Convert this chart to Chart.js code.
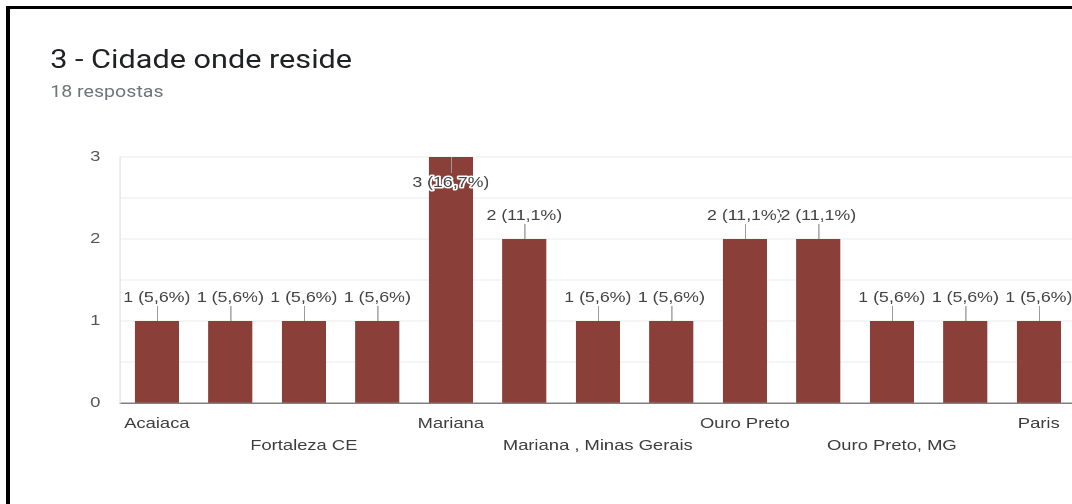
<!DOCTYPE html>
<html>
<head>
<meta charset="utf-8">
<script src="https://cdn.jsdelivr.net/npm/chart.js@4"></script>
<style>
  html, body { margin: 0; padding: 0; background: #fff; overflow: hidden; width: 1072px; height: 504px; }
  #frame {
    position: absolute; left: 6px; top: 6px; width: 1200px; height: 600px;
    border-left: 4px solid #000; border-top: 3px solid #000; box-sizing: border-box;
  }
  #card {
    position: absolute; left: 0; top: 0; width: 900px; height: 504px;
    transform: scaleX(1.225); transform-origin: 0 0;
  }
  #wrap { position: absolute; left: 0; top: 0; width: 900px; height: 504px; }
  .title {
    position: absolute; left: 41px; top: 45px; font: 25px/30px Roboto, sans-serif;
    color: #202124; white-space: nowrap;
  }
  .sub {
    position: absolute; left: 41px; top: 82.2px; font: 16px/20px Roboto, sans-serif;
    color: #70757a; white-space: nowrap;
  }
</style>
</head>
<body>
<div id="frame"></div>
<div id="card">
  <div id="wrap"><canvas id="chart"></canvas></div>
  <div class="title">3 - Cidade onde reside</div>
  <div class="sub">18 respostas</div>
</div>
<script>
// answers per city (every other name is skipped on the axis)
const cities = ['Acaiaca', '', 'Fortaleza CE', '', 'Mariana', '', 'Mariana , Minas Gerais', '',
                'Ouro Preto', '', 'Ouro Preto, MG', '', 'Paris'];
const counts = [1, 1, 1, 1, 3, 2, 1, 1, 2, 2, 1, 1, 1];
const yTicks = [0, 1, 2, 3];

const total = counts.reduce((a, b) => a + b, 0);

Chart.defaults.font.family = '"Liberation Sans", Arial, sans-serif';

// "n (pp,p%)" labels with a short leader line; goes inside the bar when there is no room above
const valueLabels = {
    id: 'valueLabels',
    afterDatasetsDraw(chart) {
        const { ctx, chartArea } = chart;
        const meta = chart.getDatasetMeta(0);
        ctx.save();
        ctx.font = '14.5px "Liberation Sans", Arial, sans-serif';
        ctx.textAlign = 'center';
        ctx.textBaseline = 'middle';
        ctx.lineJoin = 'round';
        meta.data.forEach((bar, i) => {
            const v = counts[i];
            const text = v + ' (' + (v / total * 100).toFixed(1).replace('.', ',') + '%)';
            const inside = bar.y - 30 < chartArea.top;
            const lineEnd = inside ? bar.y + 16 : bar.y - 15;
            const textY = inside ? bar.y + 26 : bar.y - 23;
            const x = Math.round(bar.x) + 0.5;

            ctx.strokeStyle = '#9a9a9a';
            ctx.lineWidth = 1;
            ctx.beginPath();
            ctx.moveTo(x, bar.y);
            ctx.lineTo(x, lineEnd);
            ctx.stroke();

            ctx.strokeStyle = '#fff';
            ctx.lineWidth = 3;
            ctx.strokeText(text, bar.x, textY);
            ctx.fillStyle = '#444';
            ctx.fillText(text, bar.x, textY);
        });
        ctx.restore();
    }
};

new Chart(document.getElementById('chart'), {
    type: 'bar',
    data: {
        labels: cities,
        datasets: [{
            data: counts,
            backgroundColor: '#8b3f39',
            categoryPercentage: 1,
            barPercentage: 0.6
        }]
    },
    options: {
        responsive: true,
        maintainAspectRatio: false,
        animation: false,
        devicePixelRatio: 2,
        layout: { padding: { top: 157, right: 22, bottom: 0, left: 0 } },
        plugins: {
            legend: { display: false },
            tooltip: { enabled: false }
        },
        scales: {
            x: {
                afterFit(scale) { scale.height = 101; },
                grid: { display: false, drawTicks: false },
                border: { display: true, color: '#808080', width: 1.5 },
                ticks: {
                    autoSkip: false,
                    maxRotation: 0,
                    padding: 10,
                    color: '#3c3c3c',
                    font: { size: 15, lineHeight: '22px' },
                    callback(value, index) {
                        if (index % 2) return '';
                        const name = cities[index];
                        return index % 4 === 0 ? name : ['', name];
                    }
                }
            },
            y: {
                min: 0,
                max: yTicks[yTicks.length - 1],
                afterFit(scale) { scale.width = 98; },
                grid: { color: '#ebebeb', drawTicks: false },
                border: { display: true, color: '#e4e4e4' },
                ticks: {
                    stepSize: 0.5,
                    padding: 16,
                    color: '#555',
                    font: { size: 15 },
                    callback(value) {
                        return yTicks.includes(value) ? value : '';
                    }
                }
            }
        }
    },
    plugins: [valueLabels]
});
</script>
</body>
</html>
